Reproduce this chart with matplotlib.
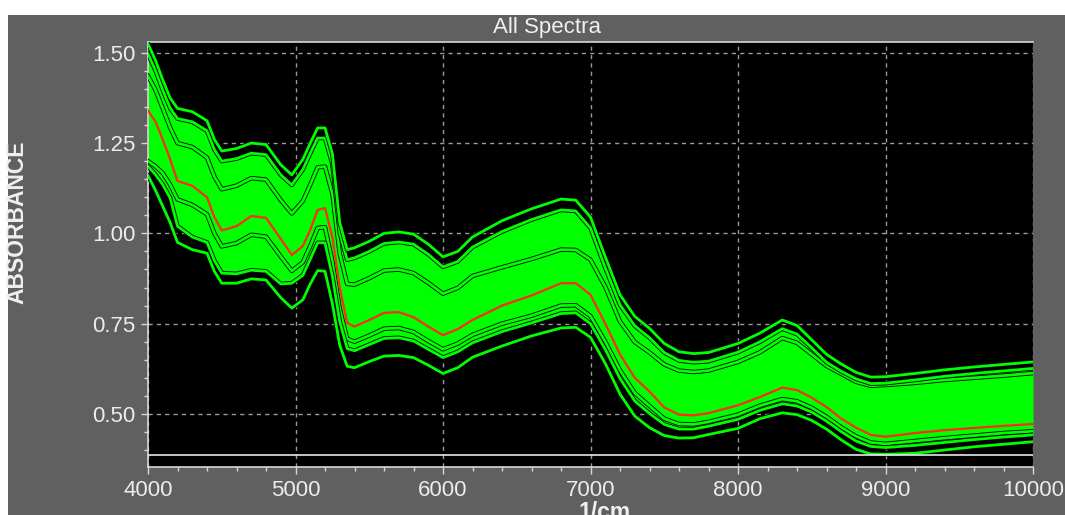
import numpy as np
import matplotlib.pyplot as plt
import matplotlib.patheffects as pe
from matplotlib.patches import Rectangle
from matplotlib.ticker import MultipleLocator, FormatStrFormatter

# wavenumber grid (1/cm) and spectra
wavenumber = [4000, 4050, 4100, 4150, 4200, 4300, 4400, 4450, 4500, 4600,
              4700, 4800, 4900, 4975, 5050, 5100, 5150, 5200, 5250, 5300,
              5350, 5400, 5500, 5600, 5700, 5800, 5900, 6000, 6100, 6200,
              6400, 6600, 6800, 6900, 7000, 7100, 7200, 7300, 7400, 7500,
              7600, 7700, 7800, 8000, 8150, 8300, 8400, 8500, 8600, 8700,
              8800, 8900, 9000, 9200, 9400, 9600, 9800, 10000]

top_spectrum = [1.525, 1.480, 1.425, 1.375, 1.346, 1.337, 1.312, 1.260, 1.228, 1.235,
                1.250, 1.246, 1.190, 1.162, 1.205, 1.250, 1.292, 1.292, 1.220, 1.030,
                0.955, 0.960, 0.978, 1.000, 1.004, 0.998, 0.970, 0.935, 0.950, 0.990,
                1.035, 1.068, 1.095, 1.092, 1.045, 0.935, 0.830, 0.770, 0.737, 0.695,
                0.672, 0.667, 0.670, 0.695, 0.724, 0.760, 0.745, 0.705, 0.665, 0.638,
                0.615, 0.602, 0.603, 0.612, 0.622, 0.630, 0.637, 0.644]

upper_spectrum = [1.497, 1.452, 1.397, 1.347, 1.318, 1.309, 1.284, 1.232, 1.200, 1.207,
                  1.222, 1.218, 1.162, 1.134, 1.177, 1.222, 1.264, 1.264, 1.192, 1.002,
                  0.927, 0.932, 0.950, 0.972, 0.976, 0.970, 0.942, 0.907, 0.922, 0.962,
                  1.005, 1.038, 1.065, 1.062, 1.015, 0.905, 0.802, 0.744, 0.711, 0.670,
                  0.648, 0.643, 0.646, 0.671, 0.700, 0.736, 0.721, 0.683, 0.643, 0.618,
                  0.597, 0.584, 0.585, 0.594, 0.604, 0.612, 0.619, 0.626]

band_upper = [1.436, 1.398, 1.346, 1.293, 1.250, 1.239, 1.210, 1.157, 1.122, 1.132,
              1.153, 1.149, 1.092, 1.055, 1.090, 1.135, 1.183, 1.185, 1.110, 0.944,
              0.860, 0.858, 0.876, 0.897, 0.900, 0.890, 0.863, 0.833, 0.849, 0.882,
              0.906, 0.929, 0.955, 0.954, 0.927, 0.852, 0.756, 0.699, 0.670, 0.637,
              0.620, 0.616, 0.620, 0.644, 0.671, 0.710, 0.697, 0.665, 0.633, 0.611,
              0.589, 0.578, 0.580, 0.586, 0.594, 0.600, 0.606, 0.613]

mean_spectrum = [1.340, 1.310, 1.260, 1.205, 1.145, 1.132, 1.100, 1.045, 1.008, 1.020,
                 1.048, 1.043, 0.985, 0.940, 0.965, 1.010, 1.065, 1.070, 0.990, 0.850,
                 0.752, 0.742, 0.760, 0.780, 0.782, 0.768, 0.742, 0.718, 0.735, 0.760,
                 0.800, 0.828, 0.862, 0.862, 0.830, 0.750, 0.665, 0.600, 0.562, 0.518,
                 0.498, 0.496, 0.502, 0.524, 0.547, 0.573, 0.566, 0.545, 0.519, 0.487,
                 0.462, 0.442, 0.437, 0.447, 0.455, 0.461, 0.467, 0.472]

band_lower = [1.200, 1.186, 1.167, 1.135, 1.094, 1.079, 1.053, 1.000, 0.964, 0.973,
              0.996, 0.991, 0.936, 0.896, 0.920, 0.965, 1.015, 1.017, 0.922, 0.791,
              0.708, 0.700, 0.717, 0.736, 0.738, 0.727, 0.702, 0.679, 0.695, 0.719,
              0.750, 0.772, 0.800, 0.801, 0.771, 0.700, 0.621, 0.558, 0.522, 0.487,
              0.472, 0.471, 0.478, 0.498, 0.523, 0.541, 0.535, 0.517, 0.492, 0.463,
              0.438, 0.421, 0.417, 0.425, 0.433, 0.440, 0.447, 0.452]

lower_spectrum = [1.186, 1.163, 1.135, 1.098, 1.020, 0.990, 0.975, 0.925, 0.890, 0.888,
                  0.898, 0.895, 0.860, 0.862, 0.884, 0.928, 0.974, 0.974, 0.881, 0.756,
                  0.681, 0.675, 0.692, 0.709, 0.711, 0.702, 0.679, 0.656, 0.672, 0.697,
                  0.728, 0.752, 0.778, 0.780, 0.750, 0.679, 0.598, 0.536, 0.501, 0.471,
                  0.458, 0.458, 0.466, 0.485, 0.510, 0.528, 0.522, 0.505, 0.480, 0.451,
                  0.425, 0.410, 0.407, 0.413, 0.421, 0.429, 0.436, 0.442]

bottom_spectrum = [1.160, 1.120, 1.075, 1.030, 0.975, 0.955, 0.945, 0.895, 0.862, 0.862,
                   0.874, 0.871, 0.822, 0.793, 0.816, 0.860, 0.897, 0.895, 0.805, 0.690,
                   0.632, 0.628, 0.645, 0.660, 0.662, 0.656, 0.635, 0.612, 0.628, 0.657,
                   0.688, 0.716, 0.738, 0.740, 0.712, 0.640, 0.555, 0.494, 0.462, 0.440,
                   0.433, 0.434, 0.443, 0.460, 0.487, 0.503, 0.498, 0.482, 0.458, 0.428,
                   0.402, 0.389, 0.388, 0.391, 0.400, 0.409, 0.416, 0.423]

baseline_level = 0.387

x_ticks = [4000, 5000, 6000, 7000, 8000, 9000, 10000]
y_ticks = [0.50, 0.75, 1.00, 1.25, 1.50]

W, H = 1065, 515
green = '#00ff00'
panel_grey = '#606060'
light = '#d8d8d8'
font = 'Liberation Sans'

fig = plt.figure(figsize=(W / 100, H / 100), dpi=100, facecolor='white')
fig.patches.append(Rectangle((8 / W, 0), 1, 500 / H, transform=fig.transFigure,
                             facecolor=panel_grey, edgecolor='none', zorder=-5))

ax = fig.add_axes([148 / W, 48 / H, 885 / W, 425 / H])
ax.set_facecolor('black')
ax.set_xlim(4000, 10000)
ax.set_ylim(0.353, 1.53)

# grid
ax.set_axisbelow(True)
ax.grid(True, which='major', color='#9a9a9a', linestyle=(0, (3, 3)), linewidth=1)

# solid body of the spectra bundle
x = np.array(wavenumber)
ax.fill_between(x, lower_spectrum, upper_spectrum, color=green, lw=0, zorder=2)

# individual spectra drawn green with a thin black rim
outline = [pe.Stroke(linewidth=3.2, foreground='black'), pe.Normal()]
for spec in [band_upper, band_lower, upper_spectrum, lower_spectrum,
             top_spectrum, bottom_spectrum]:
    ax.plot(x, spec, color=green, lw=2.0, zorder=3, path_effects=outline,
            solid_joinstyle='round')

# mean spectrum
ax.plot(x, mean_spectrum, color='#ff2a1a', lw=1.6, zorder=4)

ax.axhline(baseline_level, color='#e8e8e8', lw=1.2, zorder=5)

# axes styling
for side in ['left', 'bottom', 'top']:
    ax.spines[side].set_color(light)
    ax.spines[side].set_linewidth(1.2)
ax.spines['right'].set_visible(False)

ax.set_xticks(x_ticks)
ax.set_yticks(y_ticks)
ax.xaxis.set_minor_locator(MultipleLocator(200))
ax.yaxis.set_minor_locator(MultipleLocator(0.05))
ax.yaxis.set_major_formatter(FormatStrFormatter('%.2f'))
ax.tick_params(which='major', direction='out', length=5, width=1, color=light,
               labelcolor='#ececec', labelsize=16, pad=4)
ax.tick_params(which='minor', direction='out', length=3, width=1, color=light)
for lab in ax.get_xticklabels() + ax.get_yticklabels():
    lab.set_family(font)

fig.text(547 / W, 1 - 28 / H, 'All Spectra', color='#f0f0f0', fontsize=16,
         family=font, ha='center', va='center')
fig.text(17 / W, 1 - 222 / H, 'ABSORBANCE', color='#f0f0f0', fontsize=16.5,
         family=font, fontweight='bold', rotation=90, ha='center', va='center')
fig.text(605 / W, 1 - 501 / H, '1/cm', color='#f0f0f0', fontsize=16.5,
         family=font, fontweight='bold', ha='center', va='top')

fig.savefig('out.png', dpi=100, facecolor=fig.get_facecolor())
